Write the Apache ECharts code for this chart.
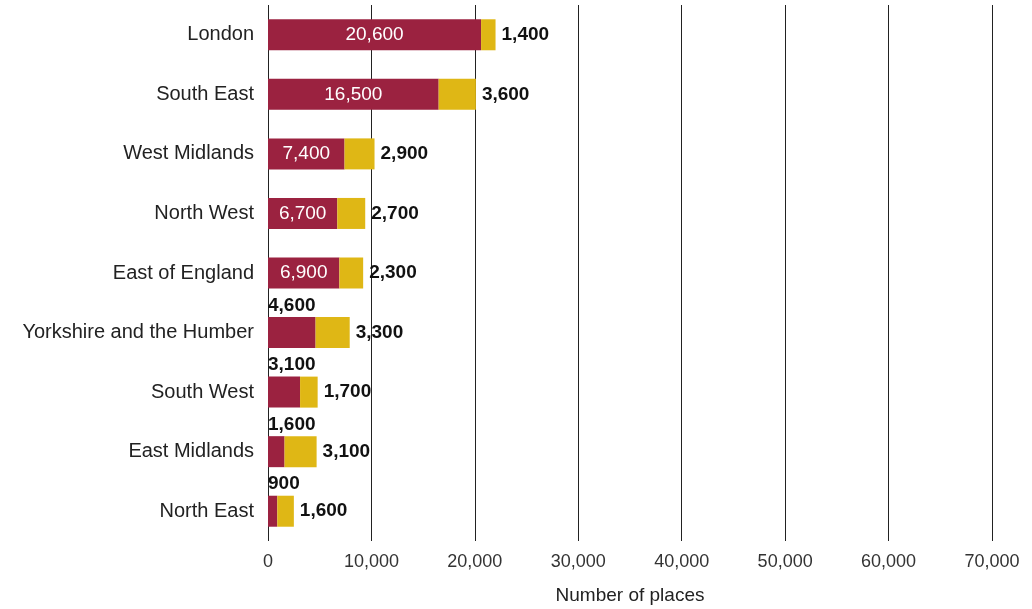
<!DOCTYPE html>
<html>
<head>
<meta charset="utf-8">
<style>
  html, body { margin: 0; padding: 0; background: #ffffff; }
  #chart { width: 1032px; height: 609px; }
</style>
<script src="https://cdn.jsdelivr.net/npm/echarts@6/dist/echarts.min.js"></script>
</head>
<body>
<div id="chart"></div>
<script>
// Regions, listed top to bottom
const regions = [
  'London', 'South East', 'West Midlands', 'North West', 'East of England',
  'Yorkshire and the Humber', 'South West', 'East Midlands', 'North East'
];
// First segment (red) and second segment (yellow) of each bar
const redValues = [20600, 16500, 7400, 6700, 6900, 4600, 3100, 1600, 900];
const yellowValues = [1400, 3600, 2900, 2700, 2300, 3300, 1700, 3100, 1600];
// Horizontal axis range
const axisMin = 0;
const axisMax = 70000;
const axisStep = 10000;

const RED = '#9b2240';
const YELLOW = '#dfb715';
const FONT = '"Liberation Sans", Arial, Helvetica, sans-serif';

const fmt = v => v.toLocaleString('en-GB');

// Wide red segments carry their value inside in white; narrow ones show it above, left-aligned
const redData = redValues.map(v => {
  const inside = v >= 5000;
  return {
    value: v,
    label: inside
      ? { position: 'inside', color: '#ffffff', fontWeight: 'normal' }
      : { position: [0, -2], align: 'left', verticalAlign: 'bottom', color: '#111111', fontWeight: 'bold' }
  };
});

const chart = echarts.init(document.getElementById('chart'), null, { renderer: 'canvas' });
chart.setOption({
  animation: false,
  backgroundColor: '#ffffff',
  textStyle: { fontFamily: FONT },
  grid: { left: 268, right: 40, top: 5, bottom: 68, containLabel: false, outerBoundsMode: 'none' },
  xAxis: {
    type: 'value',
    min: axisMin,
    max: axisMax,
    interval: axisStep,
    name: 'Number of places',
    nameLocation: 'middle',
    nameGap: 45,
    nameTextStyle: { fontFamily: FONT, fontSize: 19, color: '#222222' },
    axisLine: { show: false },
    axisTick: { show: false },
    axisLabel: {
      fontFamily: FONT, fontSize: 18, color: '#333333', margin: 12,
      formatter: v => fmt(v)
    },
    splitLine: { show: true, lineStyle: { color: '#222222', width: 1 } }
  },
  yAxis: {
    type: 'category',
    data: regions,
    inverse: true,
    axisLine: { show: false },
    axisTick: { show: false },
    axisLabel: { fontFamily: FONT, fontSize: 20, color: '#222222', margin: 14 },
    splitLine: { show: false }
  },
  series: [
    {
      name: 'red',
      type: 'bar',
      stack: 'total',
      barWidth: 31,
      itemStyle: { color: RED },
      label: {
        show: true,
        fontFamily: FONT,
        fontSize: 19,
        formatter: p => fmt(p.value)
      },
      data: redData
    },
    {
      name: 'yellow',
      type: 'bar',
      stack: 'total',
      barWidth: 31,
      itemStyle: { color: YELLOW },
      label: {
        show: true,
        position: 'right',
        distance: 6,
        fontFamily: FONT,
        fontSize: 19,
        fontWeight: 'bold',
        color: '#111111',
        formatter: p => fmt(p.value)
      },
      data: yellowValues
    }
  ]
});
</script>
</body>
</html>
